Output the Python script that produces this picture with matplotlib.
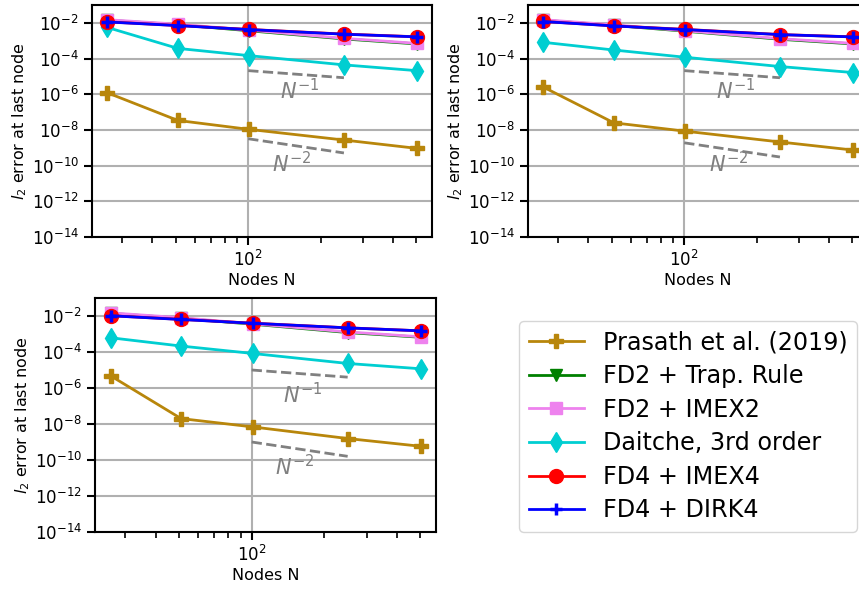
import numpy as np
import matplotlib.pyplot as plt

# node counts used in every panel
nodes = [26, 51, 101, 251, 501]

# panel (a) errors
prasath_a = [1.2e-6, 3.4e-8, 1.07e-8, 2.7e-9, 9.3e-10]
trap_a = [1.4e-2, 7.9e-3, 3.6e-3, 1.25e-3, 6.6e-4]
imex2_a = [1.5e-2, 8.4e-3, 3.9e-3, 1.35e-3, 7.1e-4]
daitche_a = [5.5e-3, 3.7e-4, 1.45e-4, 4.4e-5, 2.1e-5]
imex4_a = [1.14e-2, 7.1e-3, 4.26e-3, 2.34e-3, 1.66e-3]
dirk4_a = [1.12e-2, 7.0e-3, 4.2e-3, 2.3e-3, 1.64e-3]

# panel (b)
prasath_b = [2.5e-6, 2.5e-8, 8.5e-9, 2.1e-9, 7.5e-10]
trap_b = [1.4e-2, 7.2e-3, 3.4e-3, 1.2e-3, 6.6e-4]
imex2_b = [1.5e-2, 7.7e-3, 3.6e-3, 1.3e-3, 7.1e-4]
daitche_b = [8.1e-4, 3.0e-4, 1.18e-4, 3.55e-5, 1.65e-5]
imex4_b = [1.2e-2, 6.8e-3, 4.3e-3, 2.2e-3, 1.65e-3]
dirk4_b = [1.18e-2, 6.7e-3, 4.2e-3, 2.18e-3, 1.63e-3]

# panel (c)
prasath_c = [4.8e-6, 2.0e-8, 6.9e-9, 1.55e-9, 5.8e-10]
trap_c = [1.4e-2, 7.5e-3, 3.5e-3, 1.2e-3, 6.6e-4]
imex2_c = [1.5e-2, 8.0e-3, 3.7e-3, 1.3e-3, 7.0e-4]
daitche_c = [6.2e-4, 2.14e-4, 8.3e-5, 2.3e-5, 1.17e-5]
imex4_c = [1.04e-2, 6.5e-3, 4.0e-3, 2.2e-3, 1.5e-3]
dirk4_c = [1.03e-2, 6.4e-3, 3.95e-3, 2.18e-3, 1.5e-3]

# reference slopes: start value at N=100 for N^-1 and N^-2 guides
ref_nodes = [100, 250]
ref1_start = [2.1e-5, 2.1e-5, 1.0e-5]
ref2_start = [3.2e-9, 1.9e-9, 1.0e-9]
# text anchors (x, y) for the slope labels
ref1_text = [(135, 5e-7), (136, 5e-7), (135, 1.4e-7)]
ref2_text = [(125, 4.5e-11), (127, 4.5e-11), (125, 1.4e-11)]

labels = ["Prasath et al. (2019)", "FD2 + Trap. Rule", "FD2 + IMEX2",
          "Daitche, 3rd order", "FD4 + IMEX4", "FD4 + DIRK4"]
colors = ["darkgoldenrod", "green", "violet", "darkturquoise", "red", "blue"]
markers = ["P", "v", "s", "d", "o", "+"]

panels = [
    [prasath_a, trap_a, imex2_a, daitche_a, imex4_a, dirk4_a],
    [prasath_b, trap_b, imex2_b, daitche_b, imex4_b, dirk4_b],
    [prasath_c, trap_c, imex2_c, daitche_c, imex4_c, dirk4_c],
]

plt.rcParams['axes.linewidth'] = 1.5
plt.rcParams['xtick.major.width'] = 1.5
plt.rcParams['ytick.major.width'] = 1.5
plt.rcParams['xtick.minor.width'] = 1.2
plt.rcParams['xtick.major.size'] = 6
plt.rcParams['ytick.major.size'] = 6
plt.rcParams['xtick.minor.size'] = 4
plt.rcParams['xtick.labelsize'] = 12
plt.rcParams['ytick.labelsize'] = 12
plt.rcParams['axes.labelsize'] = 11.5

W, H = 859, 590
fig = plt.figure(figsize=(W / 100, H / 100), dpi=100)

# axes boxes in pixels: left, top, right, bottom
boxes = [(92, 5, 432, 237), (528, 5, 868, 237), (95, 298, 436, 532)]

handles = []
for k, (box, series) in enumerate(zip(boxes, panels)):
    l, t, r, b = box
    ax = fig.add_axes([l / W, 1 - b / H, (r - l) / W, (b - t) / H])
    for i, vals in enumerate(series):
        ms = 10
        mew = 1
        if markers[i] == "+":
            ms, mew = 9, 2.5
        if markers[i] == "v":
            ms = 8
        if markers[i] == "s":
            ms = 9
        h, = ax.loglog(nodes, vals, marker=markers[i], color=colors[i], lw=2,
                       ms=ms, mew=mew, label=labels[i])
        if k == 0:
            handles.append(h)
    r1 = [ref1_start[k] * (n / ref_nodes[0]) ** -1 for n in ref_nodes]
    r2 = [ref2_start[k] * (n / ref_nodes[0]) ** -2 for n in ref_nodes]
    ax.loglog(ref_nodes, r1, '--', color='gray', lw=2)
    ax.loglog(ref_nodes, r2, '--', color='gray', lw=2)
    ax.text(ref1_text[k][0], ref1_text[k][1], r'$N^{-1}$', color='gray', fontsize=15)
    ax.text(ref2_text[k][0], ref2_text[k][1], r'$N^{-2}$', color='gray', fontsize=15)
    ax.set_ylim(1e-14, 1e-1)
    ax.set_yticks([1e-14, 1e-12, 1e-10, 1e-8, 1e-6, 1e-4, 1e-2])
    ax.yaxis.set_minor_locator(plt.NullLocator())
    ax.grid(True, lw=1.5)
    ax.set_xlabel('Nodes N', labelpad=2)
    ax.set_ylabel(r'$l_2$ error at last node', labelpad=2)

fig.legend(handles=handles, loc='lower right', bbox_to_anchor=(857 / W, 1 - 532 / H),
           fontsize=17.2, borderaxespad=0, labelspacing=0.4, handlelength=2.3)

fig.savefig('out.png', dpi=100)
